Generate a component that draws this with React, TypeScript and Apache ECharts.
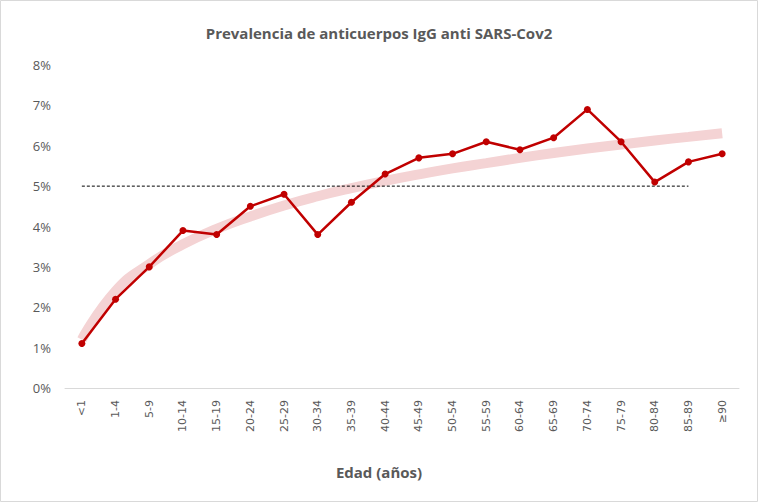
import React, { useEffect, useRef } from "react";
import * as echarts from "echarts";

const categories = ["<1", "1-4", "5-9", "10-14", "15-19", "20-24", "25-29", "30-34", "35-39", "40-44", "45-49", "50-54", "55-59", "60-64", "65-69", "70-74", "75-79", "80-84", "85-89", "≥90"];
const prevalence = [1.1, 2.2, 3.0, 3.9, 3.8, 4.5, 4.8, 3.8, 4.6, 5.3, 5.7, 5.8, 6.1, 5.9, 6.2, 6.9, 6.1, 5.1, 5.6, 5.8];
const trend = [1.2, 2.4, 3.07, 3.56, 3.94, 4.25, 4.52, 4.75, 4.95, 5.13, 5.29, 5.44, 5.57, 5.7, 5.82, 5.93, 6.03, 6.13, 6.22, 6.31];
const reference = [5, 5, 5, 5, 5, 5, 5, 5, 5, 5, 5, 5, 5, 5, 5, 5, 5, 5, 5, null];
const yTicks = [0, 1, 2, 3, 4, 5, 6, 7, 8];

export default function App() {
  const ref = useRef<HTMLDivElement>(null);
  useEffect(() => {
    if (!ref.current) return;
    const chart = echarts.init(ref.current, undefined, { renderer: "svg" });
    chart.setOption({
      animation: false,
      backgroundColor: "#ffffff",
      title: {
        text: "Prevalencia de anticuerpos IgG anti SARS-Cov2",
        left: "center",
        top: 20,
        textStyle: { fontFamily: "Open Sans", fontSize: 15, fontWeight: "bold", color: "#595959" },
      },
      graphic: [
        {
          type: "rect",
          shape: { x: 0.5, y: 0.5, width: 757, height: 501 },
          style: { fill: "none", stroke: "#d9d9d9", lineWidth: 1 },
          silent: true,
        },
        {
          type: "text",
          left: "center",
          top: 464,
          style: { text: "Edad (años)", fontFamily: "Open Sans", fontSize: 15, fontWeight: "bold", fill: "#595959" },
        },
      ],
      grid: { left: 65, right: 19, top: 65, bottom: 114, containLabel: false },
      xAxis: {
        type: "category",
        data: categories,
        boundaryGap: true,
        axisTick: { show: false },
        axisLine: { lineStyle: { color: "#d9d9d9", width: 1 } },
        axisLabel: { rotate: 90, interval: 0, margin: 12, fontFamily: "DejaVu Sans", fontSize: 11, color: "#595959" },
      },
      yAxis: {
        type: "value",
        min: yTicks[0],
        max: yTicks[yTicks.length - 1],
        interval: 1,
        splitLine: { show: false },
        axisLine: { show: false },
        axisTick: { show: false },
        axisLabel: { margin: 14, fontFamily: "Open Sans", fontSize: 13, color: "#595959", formatter: (v: number) => v + "%" },
      },
      series: [
        {
          type: "line",
          data: trend,
          smooth: true,
          showSymbol: false,
          symbol: "none",
          lineStyle: { color: "#f4d3d4", width: 10 },
          z: 1,
        },
        {
          type: "line",
          data: reference,
          showSymbol: false,
          symbol: "none",
          lineStyle: { color: "#000000", width: 1, type: [3, 2] },
          z: 2,
        },
        {
          type: "line",
          data: prevalence,
          symbol: "circle",
          symbolSize: 7,
          itemStyle: { color: "#c00000" },
          lineStyle: { color: "#c00000", width: 2.5 },
          z: 3,
        },
      ],
    });
    return () => chart.dispose();
  }, []);
  return <div ref={ref} style={{ position: "fixed", left: 0, top: 0, width: 758, height: 502 }} />;
}
